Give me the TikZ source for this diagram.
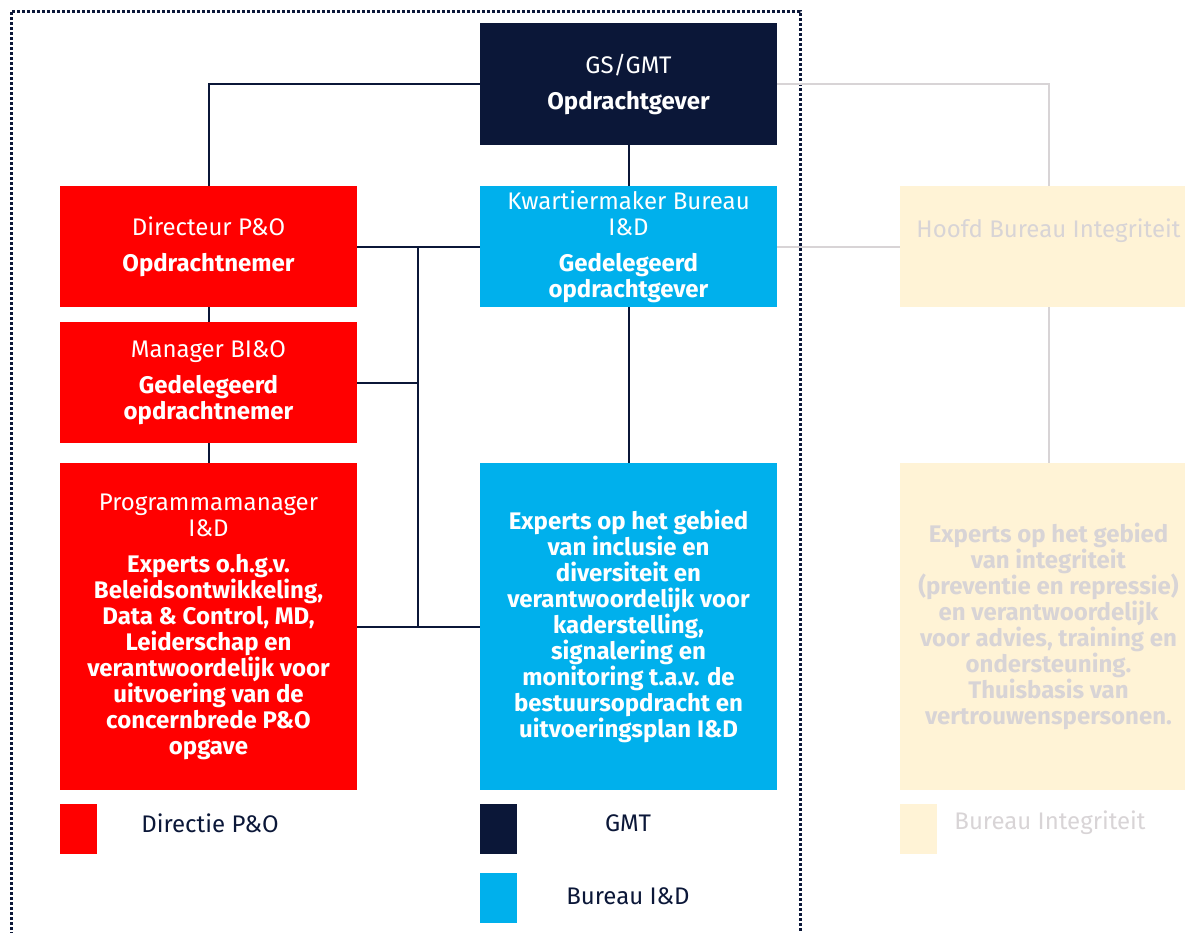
\documentclass[tikz,border=0pt]{standalone}
\usepackage{fontspec}
\setmainfont[Ligatures=NoCommon]{Fira Sans}
\usetikzlibrary{positioning}

\definecolor{gmtnavy}{RGB}{11,23,56}
\definecolor{pored}{RGB}{255,0,0}
\definecolor{bidcyan}{RGB}{0,176,236}
\definecolor{bipale}{RGB}{255,243,214}
\definecolor{bigrey}{RGB}{216,212,214}

\newcommand{\orgfont}{\fontsize{18}{19.5}\selectfont}

\tikzset{
  orgbox/.style={minimum width=222.75pt, minimum height=90.75pt, inner sep=0pt,
    align=center, font=\orgfont},
  tallbox/.style={orgbox, minimum height=245.25pt},
  gmtbox/.style={fill=gmtnavy, text=white},
  pobox/.style={fill=pored, text=white},
  idbox/.style={fill=bidcyan, text=white},
  bibox/.style={fill=bipale, text=bigrey},
  legendsq/.style={minimum width=27.75pt, minimum height=37.5pt, inner sep=0pt},
  legendtxt/.style={font=\orgfont, text=gmtnavy, inner sep=0pt},
  conn/.style={draw=gmtnavy, line width=1.5pt},
  faint/.style={draw=bigrey, line width=1.5pt}
}

\begin{document}
\begin{tikzpicture}[x=0.75pt, y=-0.75pt]
    \useasboundingbox (0,0) rectangle (1185,932);
    % frame
    \draw[gmtnavy, line width=2.25pt, dash pattern=on 2.25pt off 1.5pt]
        (11,940) -- (11,11) -- (800,11) -- (800,940);

    % top
    \node[orgbox, gmtbox, minimum height=91.5pt] (gs) at (628.5,84) {GS/GMT\\[7.5pt]\textbf{Opdrachtgever}};

    % second row
    \node[orgbox, pobox] (dir) at (208.5,246.5) {Directeur P\&O\\[7.5pt]\textbf{Opdrachtnemer}};
    \node[orgbox, idbox] (kw) at (628.5,246.5) {Kwartiermaker Bureau\\I\&D\\[7.5pt]\textbf{Gedelegeerd}\\\textbf{opdrachtgever}};
    \node[orgbox, bibox] (hbi) at (1048.5,246.5) {Hoofd Bureau Integriteit\\[7.5pt]\mbox{}};

    % manager
    \node[orgbox, pobox] (mgr) at (208.5,382.5) {Manager BI\&O\\[7.5pt]\textbf{Gedelegeerd}\\\textbf{opdrachtnemer}};

    % experts
    \node[tallbox, pobox] (prog) at (208.5,626.5) {Programmamanager\\I\&D\\[7.5pt]%
        \textbf{Experts o.h.g.v.}\\\textbf{Beleidsontwikkeling,}\\\textbf{Data \& Control, MD,}\\%
        \textbf{Leiderschap en}\\\textbf{verantwoordelijk voor}\\\textbf{uitvoering van de}\\%
        \textbf{concernbrede P\&O}\\\textbf{opgave}};
    \node[tallbox, idbox] (exid) at (628.5,626.5) {\textbf{Experts op het gebied}\\%
        \textbf{van inclusie en}\\\textbf{diversiteit en}\\\textbf{verantwoordelijk voor}\\%
        \textbf{kaderstelling,}\\\textbf{signalering en}\\\textbf{monitoring t.a.v. de}\\%
        \textbf{bestuursopdracht en}\\\textbf{uitvoeringsplan I\&D}};
    \node[tallbox, bibox] (exint) at (1048.5,626.5) {\textbf{Experts op het gebied}\\%
        \textbf{van integriteit}\\\textbf{(preventie en repressie)}\\\textbf{en verantwoordelijk}\\%
        \textbf{voor advies, training en}\\\textbf{ondersteuning.}\\\textbf{Thuisbasis van}\\%
        \textbf{vertrouwenspersonen.}};

    % lines
    \coordinate (bustop) at (418,246.5);
    \coordinate (busbot) at (418,626.5);
    \draw[conn] (gs.west) -| (dir.north);
    \draw[conn] (gs.south) -- (kw.north);
    \draw[conn] (dir.east) -- (kw.west);
    \draw[conn] (dir.south) -- (mgr.north);
    \draw[conn] (mgr.south) -- (prog.north);
    \draw[conn] (kw.south) -- (exid.north);
    \draw[conn] (bustop) -- (busbot);
    \draw[conn] (mgr.east) -- (mgr.east -| bustop);
    \draw[conn] (prog.east) -- (exid.west);
    \draw[faint] (gs.east) -| (hbi.north);
    \draw[faint] (kw.east) -- (hbi.west);
    \draw[faint] (hbi.south) -- (exint.north);

    % legend
    \node[legendsq, fill=pored] (lgpo) at (78.5,829) {};
    \node[legendtxt] (lgpotxt) at (210,823) {Directie P\&O};
    \node[legendsq, fill=gmtnavy] (lggmt) at (498.5,829) {};
    \node[legendtxt] (lggmttxt) at (628,823) {GMT};
    \node[legendsq, fill=bidcyan] (lgid) at (498.5,897.5) {};
    \node[legendtxt] (lgidtxt) at (628,896) {Bureau I\&D};
    \node[legendsq, fill=bipale] (lgbi) at (918,829) {};
    \node[legendtxt, text=bigrey] (lgbitxt) at (1050,823) {Bureau Integriteit};
\end{tikzpicture}
\end{document}
